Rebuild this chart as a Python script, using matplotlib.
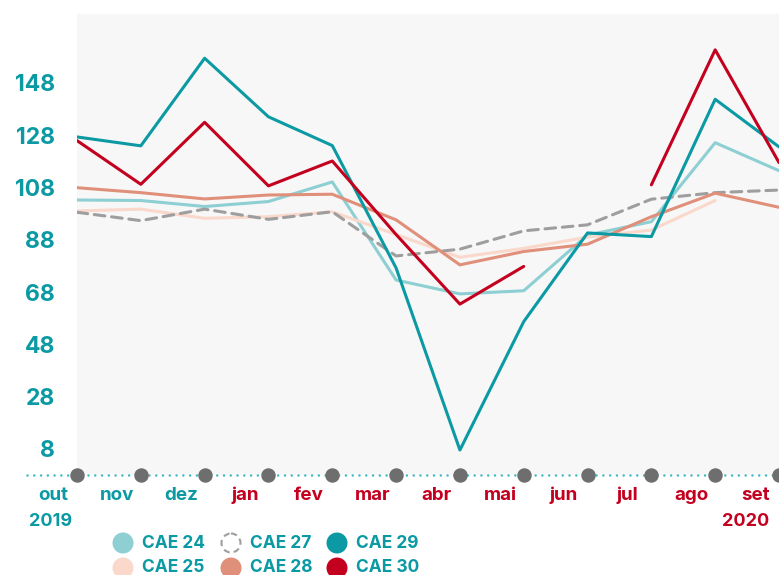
import numpy as np
import matplotlib
matplotlib.use("Agg")
import matplotlib.pyplot as plt
from matplotlib.patches import Circle

plt.rcParams['font.family'] = ['Inter', 'DejaVu Sans']

months = ["out", "nov", "dez", "jan", "fev", "mar", "abr", "mai", "jun", "jul", "ago", "set"]
years = ["2019", "2020"]
yticks = [8, 28, 48, 68, 88, 108, 128, 148]

nan = np.nan
cae24 = [103.2, 103.0, 100.7, 102.6, 110.1, 72.6, 67.3, 68.5, 89.8, 94.9, 125.1, 114.4]
cae25 = [99.0, 99.7, 96.2, 96.8, 98.7, 90.0, 81.3, 84.7, 89.0, 91.7, 103.0, nan]
cae27 = [98.5, 95.3, 99.7, 95.8, 98.7, 81.8, 84.4, 91.4, 93.7, 103.5, 106.0, 107.0]
cae28 = [107.9, 106.0, 103.6, 105.1, 105.4, 95.6, 78.4, 83.5, 86.3, 96.8, 105.8, 100.4]
cae29 = [127.3, 123.9, 157.4, 135.0, 124.0, 77.2, 7.6, 56.7, 90.6, 89.2, 141.7, 123.5]
cae30 = [125.9, 109.2, 132.9, 108.6, 118.1, 90.0, 63.4, 77.8, nan, 109.0, 160.6, 117.5]

teal = "#0b9aa3"
red = "#c4001f"
c24 = "#8dcfd2"
c25 = "#fad8cb"
c27 = "#9e9e9e"
c28 = "#e0907a"

W, H = 779, 575
fig = plt.figure(figsize=(W / 100, H / 100), dpi=100)
ax = fig.add_axes([77 / W, 1 - 475 / H, 702 / W, 461 / H])
ax.set_facecolor("#f7f7f7")

x = np.arange(len(months))
ymin, ymax = -1.94, 174.3
ax.set_xlim(0, 11)
ax.set_ylim(ymin, ymax)

lw = 2.2
ax.plot(x, cae24, color=c24, lw=lw, solid_joinstyle="round", solid_capstyle="round")
ax.plot(x, cae25, color=c25, lw=lw, solid_joinstyle="round", solid_capstyle="round")
ax.plot(x, cae27, color=c27, lw=lw, linestyle=(0, (3.5, 2.2)), dash_capstyle="round")
ax.plot(x, cae28, color=c28, lw=lw, solid_joinstyle="round", solid_capstyle="round")
ax.plot(x, cae29, color=teal, lw=lw, solid_joinstyle="round", solid_capstyle="round")
ax.plot(x, cae30, color=red, lw=lw, solid_joinstyle="round", solid_capstyle="round")

# baseline with dots and month markers
ax.plot([-0.78, 11.2], [ymin, ymin], color="#35b9c1", lw=1.8,
        linestyle=(0, (0.01, 2.7)), dash_capstyle="round", clip_on=False, zorder=5)
ax.plot(x, [ymin] * len(x), "o", color="#6e6e6e", ms=9.4, clip_on=False, zorder=6)

for s in ax.spines.values():
    s.set_visible(False)
ax.set_xticks([])
ax.set_yticks(yticks)
ax.set_yticklabels([str(v) for v in yticks], fontsize=16.5, fontweight="bold", color=teal)
ax.tick_params(axis="y", length=0, pad=16)

tr = ax.get_xaxis_transform()
for i, m in enumerate(months):
    col = teal if i < 3 else red
    ax.text(i - 0.37, -0.0434, m, transform=tr, ha="center", va="center",
            fontsize=13.5, fontweight="bold", color=col, clip_on=False)
ax.text(-0.42, -0.0998, years[0], transform=tr, ha="center", va="center",
        fontsize=13, fontweight="bold", color=teal)
ax.text(10.47, -0.0998, years[1], transform=tr, ha="center", va="center",
        fontsize=13, fontweight="bold", color=red)

# legend drawn in pixel coords
lax = fig.add_axes([0, 0, 1, 50 / H])
lax.set_xlim(0, W)
lax.set_ylim(575, 525)
lax.axis("off")
legend_items = [
    (123, 543, "CAE 24", c24, False),
    (123, 568, "CAE 25", c25, False),
    (231, 543, "CAE 27", c27, True),
    (231, 568, "CAE 28", c28, False),
    (337, 543, "CAE 29", teal, False),
    (337, 568, "CAE 30", red, False),
]
for cx, cy, label, col, dashed in legend_items:
    if dashed:
        lax.add_patch(Circle((cx, cy), 9.5, facecolor="none", edgecolor=col,
                             lw=1.5, linestyle=(0, (3, 2)), clip_on=False))
    else:
        lax.add_patch(Circle((cx, cy), 10.5, facecolor=col, edgecolor="none", clip_on=False))
    lax.text(cx + 19, cy, label, ha="left", va="center", fontsize=12.5,
             fontweight="bold", color=teal, clip_on=False)

fig.savefig("out.png", dpi=100)
